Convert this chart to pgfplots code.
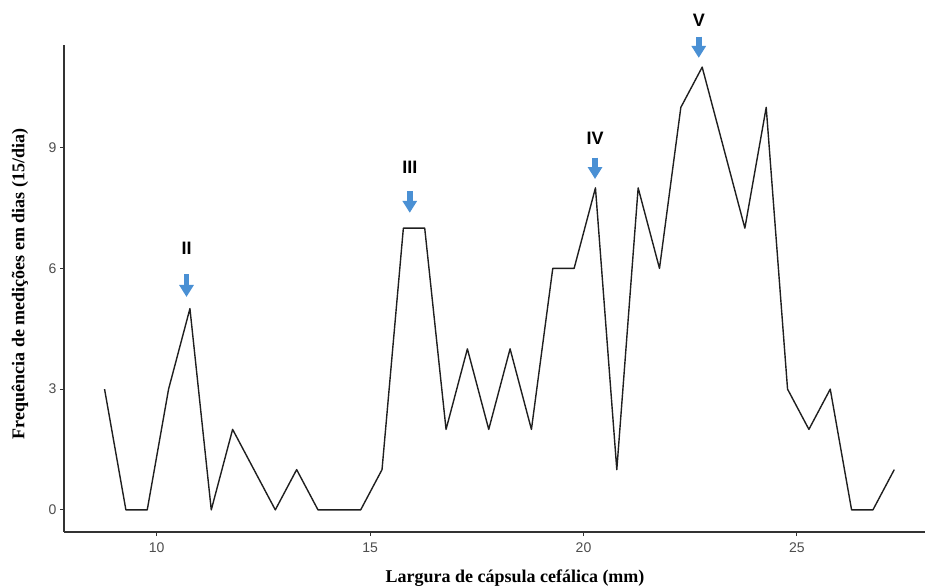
\documentclass[border=0pt]{standalone}
\usepackage{fontspec}
\setmainfont{Liberation Sans}
\newfontfamily\serifb{Liberation Serif}
\usepackage{pgfplots}
\pgfplotsset{compat=1.18}
\usetikzlibrary{arrows.meta}
\definecolor{arrowblue}{RGB}{74,144,212}
\definecolor{tickgray}{RGB}{77,77,77}
\definecolor{axisgray}{RGB}{51,51,51}
\tikzset{pk/.style={arrowblue, line width=5.5pt, -{Triangle[width=14pt,length=12pt]}}}
\begin{document}
\begin{tikzpicture}[x=1pt,y=1pt]
\path[use as bounding box] (-64,-55) rectangle (861,532);
\begin{axis}[at={(0,0)}, anchor=south west, width=861pt, height=487pt, scale only axis,
  xmin=7.83, xmax=28.0, ymin=-0.55, ymax=11.55,
  axis x line=bottom, axis y line=left,
  axis line style={axisgray, line width=1.3pt, -},
  xtick={10,15,20,25}, ytick={0,3,6,9},
  tick style={axisgray, line width=1pt}, tick align=outside, major tick length=4pt,
  tick label style={font=\fontsize{14}{16}\selectfont, text=tickgray},
  xticklabel style={yshift=-3pt},
  /pgf/number format/assume math mode=true,
  clip=false]
\addplot[color=black!88, line width=1.4pt, line join=round] coordinates {
(8.78,3) (9.28,0) (9.78,0) (10.28,3) (10.78,5) (11.28,0) (11.78,2) (12.28,1)
(12.78,0) (13.28,1) (13.78,0) (14.28,0) (14.78,0) (15.28,1) (15.78,7) (16.28,7)
(16.78,2) (17.28,4) (17.78,2) (18.28,4) (18.78,2) (19.28,6) (19.78,6) (20.28,8)
(20.78,1) (21.28,8) (21.78,6) (22.28,10) (22.78,11) (23.28,9) (23.78,7) (24.28,10)
(24.78,3) (25.28,2) (25.78,3) (26.28,0) (26.78,0) (27.28,1)
};
\draw[pk] (axis cs:10.7,5.86) -- (axis cs:10.7,5.29);
\draw[pk] (axis cs:15.93,7.92) -- (axis cs:15.93,7.38);
\draw[pk] (axis cs:20.27,8.75) -- (axis cs:20.27,8.22);
\draw[pk] (axis cs:22.70,11.76) -- (axis cs:22.70,11.23);
\node[font=\fontsize{18}{20}\selectfont\bfseries] at (axis cs:10.7,6.51) {II};
\node[font=\fontsize{18}{20}\selectfont\bfseries] at (axis cs:15.93,8.50) {III};
\node[font=\fontsize{18}{20}\selectfont\bfseries] at (axis cs:20.27,9.24) {IV};
\node[font=\fontsize{18}{20}\selectfont\bfseries] at (axis cs:22.70,12.17) {V};
\end{axis}
\node[font=\serifb\fontsize{18}{20}\selectfont\bfseries] at (451,-46) {Largura de cápsula cefálica (mm)};
\node[font=\serifb\fontsize{18}{20}\selectfont\bfseries, rotate=90] at (-44,248) {Frequência de medições em dias (15/dia)};
\end{tikzpicture}
\end{document}
